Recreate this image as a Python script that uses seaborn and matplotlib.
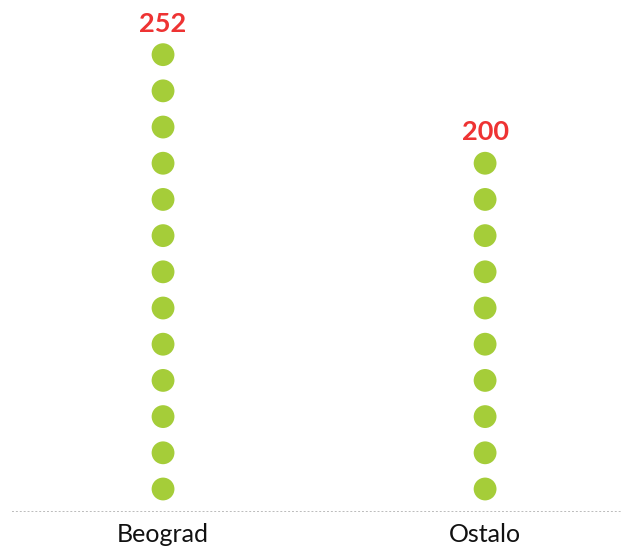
import pandas as pd
import matplotlib.pyplot as plt
import seaborn as sns

# Values per category (each dot ~ 20 units)
categories = ['Beograd', 'Ostalo']
values = [252, 200]
dot_unit = 20

sns.set_theme(style='white')
plt.rcParams['font.family'] = ['Lato', 'DejaVu Sans']

# one row per dot
rows = []
for i, (cat, val) in enumerate(zip(categories, values)):
    n = round(val / dot_unit)
    for k in range(n):
        rows.append({'x': i, 'y': k, 'cat': cat})
df = pd.DataFrame(rows)

fig = plt.figure(figsize=(6.21, 5.5), dpi=100)
ax = fig.add_axes([12 / 621, 39 / 550, 609 / 621, 511 / 550])

sns.scatterplot(data=df, x='x', y='y', s=270, color='#a5cd39',
                edgecolor='none', ax=ax, legend=False)

# value labels above the top dot
for i, val in enumerate(values):
    top = round(val / dot_unit) - 1
    ax.text(i, top + 0.86, str(val), ha='center', va='center',
            color='#ee3333', fontsize=19.5, fontweight='bold')

ax.set_xlim(-0.469, 1.422)
ax.set_ylim(-0.608, 13.51)
ax.set_xticks(range(len(categories)))
ax.set_xticklabels(categories, fontsize=18, color='#111111')
ax.set_yticks([])
ax.set_xlabel('')
ax.set_ylabel('')
ax.tick_params(axis='x', length=0, pad=9)

for side in ['top', 'left', 'right']:
    ax.spines[side].set_visible(False)
ax.spines['bottom'].set_linestyle((0, (1, 3)))
ax.spines['bottom'].set_color('#bbbbbb')
ax.spines['bottom'].set_linewidth(0.7)

fig.savefig('out.png', dpi=100, facecolor='white')
